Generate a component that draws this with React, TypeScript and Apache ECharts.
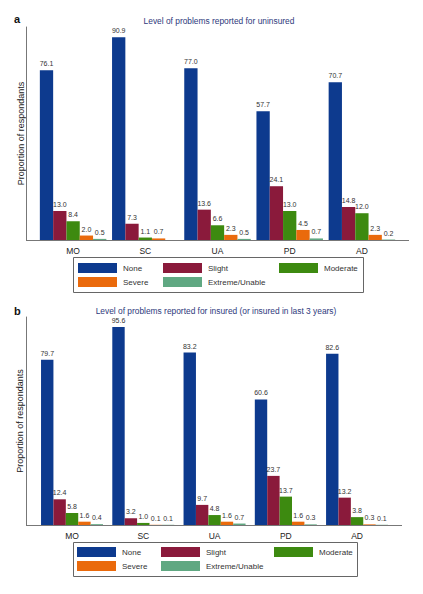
import React, { useEffect, useRef } from "react";
import * as echarts from "echarts";

const categories = ["MO", "SC", "UA", "PD", "AD"];
const levels = ["None", "Slight", "Moderate", "Severe", "Extreme/Unable"];
const uninsuredNone = [76.1, 90.9, 77.0, 57.7, 70.7];
const uninsuredSlight = [13.0, 7.3, 13.6, 24.1, 14.8];
const uninsuredModerate = [8.4, 1.1, 6.6, 13.0, 12.0];
const uninsuredSevere = [2.0, 0.7, 2.3, 4.5, 2.3];
const uninsuredExtreme = [0.5, null, 0.5, 0.7, 0.2];
const insuredNone = [79.7, 95.6, 83.2, 60.6, 82.6];
const insuredSlight = [12.4, 3.2, 9.7, 23.7, 13.2];
const insuredModerate = [5.8, 1.0, 4.8, 13.7, 3.8];
const insuredSevere = [1.6, 0.1, 1.6, 1.6, 0.3];
const insuredExtreme = [0.4, 0.1, 0.7, 0.3, 0.1];
const colors = ["#0d3a8e", "#8a1a3b", "#3d8a10", "#ea6a0c", "#60a882"];
const titleA = "Level of problems reported for uninsured";
const titleB = "Level of problems reported for insured (or insured in last 3 years)";
const yName = "Proportion of respondants";

const FONT = "Liberation Sans, Arial, sans-serif";

export default function App() {
  const ref = useRef<HTMLDivElement>(null);
  useEffect(() => {
    if (!ref.current) return;
    const chart = echarts.init(ref.current, null, { renderer: "svg" });
    const uninsured = [uninsuredNone, uninsuredSlight, uninsuredModerate, uninsuredSevere, uninsuredExtreme];
    const insured = [insuredNone, insuredSlight, insuredModerate, insuredSevere, insuredExtreme];

    const gridA = { left: 37, top: 27, width: 361, height: 213 };
    const gridB = { left: 36.4, top: 317, width: 356.3, height: 208 };

    const mkSeries = (data: (number | null)[][], idx: number, bw: number) =>
      data.map((vals, i) => ({
        type: "bar",
        name: levels[i],
        xAxisIndex: idx,
        yAxisIndex: idx,
        data: vals.map((v) => (v === null ? "-" : v)),
        barWidth: bw,
        barGap: "0%",
        itemStyle: { color: colors[i] },
        label: {
          show: true,
          position: "top",
          distance: 3,
          fontSize: 7,
          fontFamily: FONT,
          color: "#333",
          formatter: (p: any) => (typeof p.value === "number" ? p.value.toFixed(1) : ""),
        },
      }));

    const xAxisCfg = (gi: number) => ({
      type: "category",
      gridIndex: gi,
      data: categories,
      axisLine: { show: false },
      axisTick: { show: false },
      axisLabel: { fontSize: 8.5, fontFamily: FONT, color: "#222", margin: 6 },
    });
    const yAxisCfg = (gi: number) => ({
      type: "value",
      gridIndex: gi,
      min: 0,
      max: (v: any) => v.max * 1.05,
      offset: 10.5,
      axisLine: { show: true, lineStyle: { color: "#777", width: 1 } },
      axisTick: { show: false },
      axisLabel: { show: false },
      splitLine: { show: false },
      name: yName,
      nameLocation: "middle",
      nameGap: 1.5,
      nameTextStyle: { fontSize: 9, fontFamily: FONT, color: "#222" },
    });

    const legendCol = (names: string[], left: number, top: number) => ({
      data: names,
      orient: "vertical",
      left,
      top,
      padding: 0,
      itemGap: 4,
      itemWidth: 39,
      itemHeight: 10,
      itemStyle: { borderWidth: 0 },
      textStyle: { fontSize: 8, fontFamily: FONT, color: "#333", padding: [0, 0, 0, 1] },
      selectedMode: false,
      icon: "rect",
    });

    chart.setOption({
      animation: false,
      grid: [gridA, gridB],
      xAxis: [xAxisCfg(0), xAxisCfg(1)],
      yAxis: [yAxisCfg(0), yAxisCfg(1)],
      legend: [
        legendCol(["None", "Severe"], 78, 263),
        legendCol(["Slight", "Extreme/Unable"], 163, 263),
        legendCol(["Moderate"], 279, 263),
        legendCol(["None", "Severe"], 77, 547),
        legendCol(["Slight", "Extreme/Unable"], 161, 547),
        legendCol(["Moderate"], 274, 547),
      ],
      series: [...mkSeries(uninsured, 0, 13.3), ...mkSeries(insured, 1, 12.4)],
      graphic: [
        { type: "line", shape: { x1: 26, y1: 240.5, x2: 409, y2: 240.5 }, style: { stroke: "#777", lineWidth: 1 } },
        { type: "line", shape: { x1: 26, y1: 525.5, x2: 402, y2: 525.5 }, style: { stroke: "#777", lineWidth: 1 } },
        { type: "rect", shape: { x: 73.5, y: 257.5, width: 290, height: 35 }, style: { fill: "none", stroke: "#666", lineWidth: 1 } },
        { type: "rect", shape: { x: 73.5, y: 542.5, width: 284, height: 34 }, style: { fill: "none", stroke: "#666", lineWidth: 1 } },
        { type: "text", x: 14, y: 18.5, style: { text: "a", font: `bold 11px ${FONT}`, fill: "#111", verticalAlign: "middle" } },
        { type: "text", x: 14, y: 311, style: { text: "b", font: `bold 11px ${FONT}`, fill: "#111", verticalAlign: "middle" } },
        { type: "text", x: 219, y: 20.5, style: { text: titleA, font: `8.4px ${FONT}`, fill: "#2e3a7c", align: "center", verticalAlign: "middle" } },
        { type: "text", x: 216, y: 310.5, style: { text: titleB, font: `8.4px ${FONT}`, fill: "#2e3a7c", align: "center", verticalAlign: "middle" } },
      ],
    } as any);
    return () => chart.dispose();
  }, []);
  return (
    <div
      ref={ref}
      style={{ position: "fixed", left: 0, top: 0, width: 423, height: 594, background: "#fff" }}
    />
  );
}
